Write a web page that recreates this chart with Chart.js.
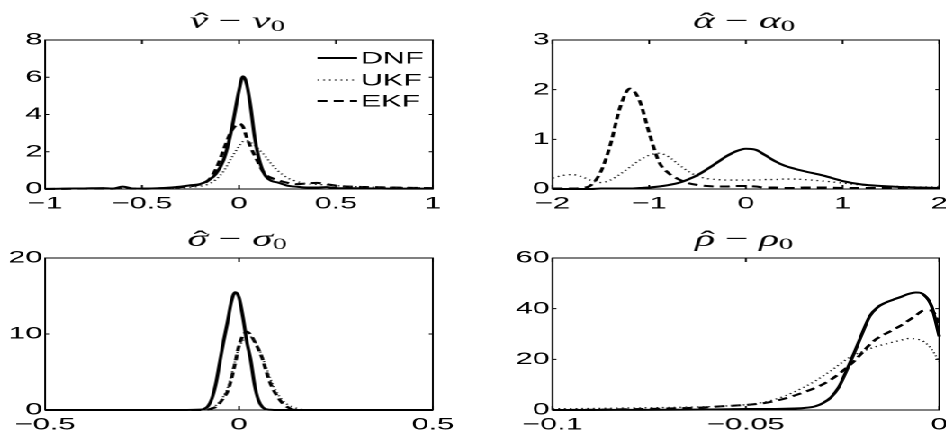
<!DOCTYPE html>
<html>
<head>
<meta charset="utf-8">
<script src="https://cdn.jsdelivr.net/npm/chart.js@4.4.1/dist/chart.umd.min.js"></script>
<style>
    html, body { margin: 0; padding: 0; background: #fff; overflow: hidden; }
    /* the source figure is stretched horizontally, so the whole stage is too */
    #stage { position: absolute; left: 0; top: 0; width: 525.56px; height: 435px; transform: scaleX(1.8); transform-origin: 0 0; }
    .cell { position: absolute; }
</style>
</head>
<body>
<div id="stage">
    <div class="cell" style="left:0;top:0;width:262.78px;height:217px"><canvas id="nu"></canvas></div>
    <div class="cell" style="left:262.78px;top:0;width:262.78px;height:217px"><canvas id="alpha"></canvas></div>
    <div class="cell" style="left:0;top:217px;width:262.78px;height:218px"><canvas id="sigma"></canvas></div>
    <div class="cell" style="left:262.78px;top:217px;width:262.78px;height:218px"><canvas id="rho"></canvas></div>
</div>
<script>
const STRETCH = 1.8;
const seriesNames = ['DNF', 'UKF', 'EKF'];

// nu - nu0
const nuX = [-1, -0.9, -0.8, -0.7, -0.65, -0.6, -0.55, -0.5, -0.4, -0.3, -0.25, -0.2, -0.16, -0.12, -0.08, -0.04, 0, 0.02, 0.04, 0.06, 0.08, 0.1, 0.12, 0.14, 0.17, 0.2, 0.25, 0.3, 0.35, 0.4, 0.45, 0.5, 0.6, 0.7, 0.8, 0.9, 1];
const nuDNF = [0, 0.02, 0.03, 0.05, 0.02, 0.13, 0.03, 0.02, 0.05, 0.13, 0.2, 0.27, 0.45, 0.8, 1.55, 3.1, 5.3, 6.05, 5.6, 4.4, 2.8, 1.75, 1.05, 0.65, 0.42, 0.35, 0.18, 0.12, 0.08, 0.08, 0.1, 0.05, 0.04, 0.03, 0.02, 0.02, 0.02];
const nuUKF = [0.01, 0.01, 0.01, 0.02, 0.02, 0.02, 0.02, 0.02, 0.03, 0.06, 0.1, 0.15, 0.25, 0.5, 0.95, 1.65, 2.3, 2.55, 2.6, 2.5, 2.35, 2.15, 1.95, 1.7, 1.3, 0.98, 0.6, 0.4, 0.28, 0.25, 0.22, 0.18, 0.13, 0.1, 0.09, 0.07, 0.06];
const nuEKF = [0.01, 0.01, 0.02, 0.02, 0.02, 0.05, 0.02, 0.02, 0.04, 0.1, 0.15, 0.25, 0.45, 1.05, 2.1, 3.1, 3.5, 3.35, 2.75, 2.25, 1.8, 1.4, 1.0, 0.75, 0.58, 0.47, 0.33, 0.26, 0.3, 0.33, 0.26, 0.18, 0.12, 0.1, 0.08, 0.06, 0.05];
const nuXTicks = [-1, -0.5, 0, 0.5, 1];
const nuYTicks = [0, 2, 4, 6, 8];

// alpha - alpha0
const alphaX = [-2, -1.9, -1.8, -1.7, -1.6, -1.5, -1.4, -1.3, -1.2, -1.1, -1.0, -0.9, -0.8, -0.7, -0.6, -0.5, -0.4, -0.3, -0.2, -0.1, 0, 0.1, 0.2, 0.3, 0.4, 0.5, 0.6, 0.8, 1.0, 1.2, 1.4, 1.6, 1.8, 2];
const alphaDNF = [0, 0, 0, 0, 0, 0.01, 0.01, 0.01, 0.01, 0.02, 0.03, 0.05, 0.08, 0.12, 0.19, 0.28, 0.4, 0.53, 0.66, 0.76, 0.81, 0.79, 0.68, 0.56, 0.47, 0.41, 0.36, 0.27, 0.16, 0.09, 0.06, 0.04, 0.03, 0.02];
const alphaUKF = [0.22, 0.27, 0.29, 0.25, 0.17, 0.13, 0.18, 0.3, 0.44, 0.58, 0.68, 0.72, 0.65, 0.5, 0.36, 0.26, 0.21, 0.19, 0.18, 0.18, 0.18, 0.18, 0.19, 0.19, 0.2, 0.2, 0.19, 0.16, 0.12, 0.08, 0.06, 0.05, 0.04, 0.04];
const alphaEKF = [0.01, 0.01, 0.01, 0.02, 0.08, 0.35, 0.9, 1.65, 2.02, 1.78, 1.13, 0.55, 0.32, 0.2, 0.12, 0.08, 0.06, 0.05, 0.05, 0.06, 0.06, 0.05, 0.03, 0.03, 0.02, 0.02, 0.03, 0.03, 0.02, 0.02, 0.02, 0.02, 0.01, 0.01];
const alphaXTicks = [-2, -1, 0, 1, 2];
const alphaYTicks = [0, 1, 2, 3];

// sigma - sigma0
const sigmaX = [-0.5, -0.4, -0.3, -0.2, -0.15, -0.1, -0.09, -0.08, -0.07, -0.06, -0.05, -0.04, -0.03, -0.02, -0.01, 0, 0.01, 0.02, 0.03, 0.04, 0.05, 0.06, 0.07, 0.08, 0.09, 0.1, 0.11, 0.12, 0.13, 0.14, 0.15, 0.16, 0.18, 0.2, 0.3, 0.4, 0.5];
const sigmaDNF = [0, 0, 0, 0, 0, 0.05, 0.15, 0.5, 1.5, 3.4, 6.2, 9.0, 11.5, 14.2, 15.5, 14.8, 12.2, 9.0, 6.6, 3.3, 1.3, 0.4, 0.1, 0.03, 0, 0, 0, 0, 0, 0, 0, 0, 0, 0, 0, 0, 0];
const sigmaUKF = [0, 0, 0, 0, 0, 0, 0.02, 0.05, 0.3, 0.6, 1.1, 1.8, 2.8, 4.5, 6.5, 8.2, 9.2, 9.6, 9.6, 9.1, 8.2, 7.0, 5.6, 4.2, 3.0, 2.1, 1.4, 0.9, 0.6, 0.4, 0.2, 0.08, 0.02, 0, 0, 0, 0];
const sigmaEKF = [0, 0, 0, 0, 0, 0, 0, 0.05, 0.2, 0.4, 0.9, 1.6, 2.4, 4.0, 6.2, 8.5, 9.8, 10.3, 9.9, 9.0, 8.0, 6.8, 5.1, 3.6, 2.5, 1.7, 1.0, 0.55, 0.25, 0.05, 0, 0, 0, 0, 0, 0, 0];
const sigmaXTicks = [-0.5, 0, 0.5];
const sigmaYTicks = [0, 10, 20];

// rho - rho0
const rhoX = [-0.1, -0.09, -0.08, -0.07, -0.06, -0.055, -0.05, -0.045, -0.04, -0.035, -0.032, -0.03, -0.028, -0.026, -0.024, -0.022, -0.02, -0.018, -0.016, -0.014, -0.012, -0.01, -0.008, -0.006, -0.004, -0.002, 0];
const rhoDNF = [0, 0, 0.05, 0.1, 0.2, 0.3, 0.4, 0.4, 0.5, 0.8, 1.5, 2.8, 5.0, 9.0, 15.5, 22.5, 30.0, 37.0, 40.5, 42.3, 43.5, 44.6, 45.8, 46.4, 45.5, 41.0, 29.0];
const rhoUKF = [0.5, 0.6, 0.8, 1.0, 1.3, 1.6, 2.1, 3.2, 5.5, 9.0, 11.5, 13.5, 15.5, 17.8, 20.0, 21.7, 23.0, 24.2, 25.2, 26.0, 26.8, 27.5, 28.2, 28.0, 27.0, 24.0, 19.0];
const rhoEKF = [0, 0.1, 0.3, 0.6, 1.1, 1.6, 2.0, 2.8, 4.5, 7.0, 8.8, 10.2, 12.0, 14.2, 16.6, 19.3, 22.5, 25.8, 28.3, 30.0, 31.6, 33.3, 35.3, 37.4, 39.3, 39.3, 34.0];
const rhoXTicks = [-0.1, -0.05, 0];
const rhoYTicks = [0, 20, 40, 60];

const lineStyles = {
    DNF: { borderColor: '#000', borderWidth: 2, borderDash: [] },
    UKF: { borderColor: '#222', borderWidth: 1.3, borderDash: [1, 2.2] },
    EKF: { borderColor: '#000', borderWidth: 2, borderDash: [5.5, 3.5] }
};

const tickFont = { family: '"Liberation Sans", Arial, Helvetica, sans-serif', size: 17 };

function fmt(v) {
    const r = Math.round(v * 1000) / 1000;
    if (r === 0) return '0';
    return (r < 0 ? '\u2212' : '') + String(Math.abs(r));
}

function pts(xs, ys) {
    return xs.map((x, i) => ({ x: x, y: ys[i] }));
}

// matlab style box, inward ticks, math title and the legend
const framePlugin = {
    id: 'frame',
    afterDatasetsDraw(chart, args, opts) {
        const { ctx, chartArea: a, scales } = chart;
        ctx.save();
        ctx.strokeStyle = '#000';
        ctx.lineWidth = 1;
        ctx.setLineDash([]);
        ctx.strokeRect(a.left, a.top, a.right - a.left, a.bottom - a.top);

        const tx = 4, ty = 4 / STRETCH;
        ctx.beginPath();
        scales.x.ticks.forEach(t => {
            const px = scales.x.getPixelForValue(t.value);
            ctx.moveTo(px, a.bottom); ctx.lineTo(px, a.bottom - tx);
            ctx.moveTo(px, a.top); ctx.lineTo(px, a.top + tx);
        });
        scales.y.ticks.forEach(t => {
            const py = scales.y.getPixelForValue(t.value);
            ctx.moveTo(a.left, py); ctx.lineTo(a.left + ty, py);
            ctx.moveTo(a.right, py); ctx.lineTo(a.right - ty, py);
        });
        ctx.stroke();

        drawTitle(ctx, (a.left + a.right) / 2 - 1, a.top - 12, opts.letter);

        if (opts.legend) {
            ctx.font = tickFont.size + 'px ' + tickFont.family;
            ctx.textAlign = 'left';
            ctx.textBaseline = 'middle';
            ctx.fillStyle = '#000';
            const rows = [18, 40, 61];
            chart.data.datasets.forEach((ds, i) => {
                const y = a.top + rows[i];
                ctx.strokeStyle = ds.borderColor;
                ctx.lineWidth = ds.borderWidth;
                ctx.setLineDash(ds.borderDash);
                ctx.beginPath();
                ctx.moveTo(a.right - 64, y);
                ctx.lineTo(a.right - 42, y);
                ctx.stroke();
                ctx.setLineDash([]);
                ctx.fillText(ds.label, a.right - 40, y + 1);
            });
        }
        ctx.restore();
    }
};

function drawTitle(ctx, cx, baseY, letter) {
    const italic = 'italic 23px "Liberation Serif", "Times New Roman", serif';
    const upright = '23px "Liberation Serif", "Times New Roman", serif';
    const small = '16px "Liberation Serif", "Times New Roman", serif';
    ctx.font = italic;
    const wL = ctx.measureText(letter).width;
    ctx.font = upright;
    const wM = ctx.measureText(' \u2212 ').width;
    ctx.font = small;
    const wS = ctx.measureText('0').width;
    let x = cx - (wL * 2 + wM + wS) / 2;
    ctx.fillStyle = '#000';
    ctx.textBaseline = 'alphabetic';

    ctx.textAlign = 'left';
    ctx.font = italic;
    ctx.fillText(letter, x, baseY);
    ctx.font = upright;
    ctx.textAlign = 'center';
    ctx.fillText('\u02C6', x + wL / 2 + 1.5, baseY + 1);
    ctx.textAlign = 'left';
    x += wL;
    ctx.fillText(' \u2212 ', x, baseY);
    x += wM;
    ctx.font = italic;
    ctx.fillText(letter, x, baseY);
    x += wL;
    ctx.font = small;
    ctx.fillText('0', x, baseY + 3);
}

function makeChart(id, xs, ys, cfg) {
    const datasets = seriesNames.map((name, i) => Object.assign({
        label: name,
        data: pts(xs, ys[i]),
        pointRadius: 0,
        fill: false,
        cubicInterpolationMode: 'monotone',
        clip: 3
    }, lineStyles[name]));

    new Chart(document.getElementById(id), {
        type: 'line',
        data: { datasets: datasets },
        options: {
            responsive: true,
            maintainAspectRatio: false,
            animation: false,
            devicePixelRatio: 2,
            events: [],
            layout: { padding: cfg.padding },
            plugins: {
                legend: { display: false },
                tooltip: { enabled: false },
                frame: { letter: cfg.letter, legend: !!cfg.legend }
            },
            scales: {
                x: {
                    type: 'linear',
                    min: cfg.xTicks[0],
                    max: cfg.xTicks[cfg.xTicks.length - 1],
                    afterBuildTicks: s => { s.ticks = cfg.xTicks.map(v => ({ value: v })); },
                    afterFit: s => { s.height = cfg.xAxisH; s.paddingLeft = 0; s.paddingRight = 0; },
                    grid: { display: false, drawTicks: false },
                    border: { display: false },
                    ticks: { autoSkip: false, maxRotation: 0, padding: 4.5, color: '#000', font: tickFont, callback: fmt }
                },
                y: {
                    type: 'linear',
                    min: cfg.yTicks[0],
                    max: cfg.yTicks[cfg.yTicks.length - 1],
                    afterBuildTicks: s => { s.ticks = cfg.yTicks.map(v => ({ value: v })); },
                    afterFit: s => { s.width = cfg.yAxisW; s.paddingTop = 0; s.paddingBottom = 0; },
                    grid: { display: false, drawTicks: false },
                    border: { display: false },
                    ticks: { autoSkip: false, padding: 1.5, color: '#000', font: tickFont, callback: fmt }
                }
            }
        },
        plugins: [framePlugin]
    });
}

makeChart('nu', nuX, [nuDNF, nuUKF, nuEKF], {
    letter: '\u03BD', legend: true, xTicks: nuXTicks, yTicks: nuYTicks,
    padding: { top: 40, right: 22.78, left: 0, bottom: 0 }, yAxisW: 25, xAxisH: 28
});
makeChart('alpha', alphaX, [alphaDNF, alphaUKF, alphaEKF], {
    letter: '\u03B1', xTicks: alphaXTicks, yTicks: alphaYTicks,
    padding: { top: 40, right: 4.45, left: 0, bottom: 0 }, yAxisW: 43.89, xAxisH: 28
});
makeChart('sigma', sigmaX, [sigmaDNF, sigmaUKF, sigmaEKF], {
    letter: '\u03C3', xTicks: sigmaXTicks, yTicks: sigmaYTicks,
    padding: { top: 41, right: 22.78, left: 0, bottom: 0 }, yAxisW: 25, xAxisH: 25
});
makeChart('rho', rhoX, [rhoDNF, rhoUKF, rhoEKF], {
    letter: '\u03C1', xTicks: rhoXTicks, yTicks: rhoYTicks,
    padding: { top: 41, right: 4.45, left: 0, bottom: 0 }, yAxisW: 43.89, xAxisH: 25
});
</script>
</body>
</html>
